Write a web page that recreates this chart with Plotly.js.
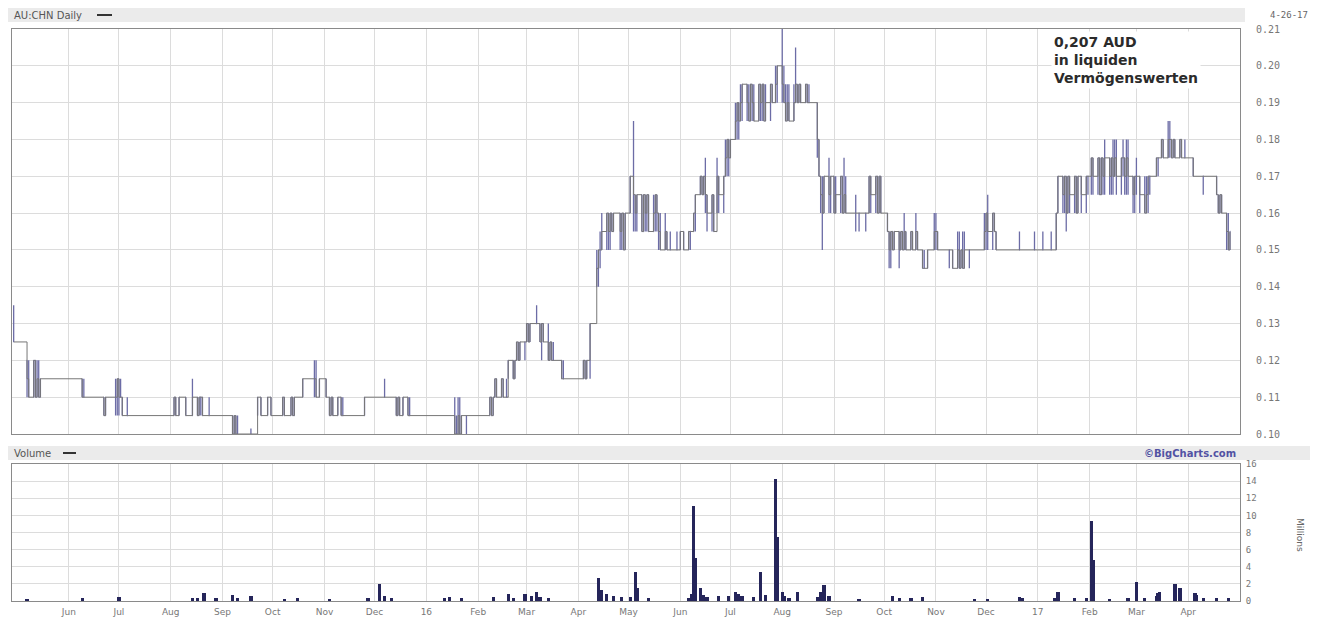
<!DOCTYPE html>
<html>
<head>
<meta charset="utf-8">
<script src="https://cdn.plot.ly/plotly-3.0.1.min.js"></script>
<style>
  html, body { margin: 0; padding: 0; background: #ffffff; }
  #chart { width: 1318px; height: 617px; }
</style>
</head>
<body>
<div id="chart"></div>
<script>
// ---------- DATA ----------
const barDate = [
 '2015-04-29','2015-05-07','2015-05-08','2015-05-11','2015-05-12','2015-05-13','2015-05-14','2015-05-15',
 '2015-06-09','2015-06-10','2015-06-22','2015-06-23','2015-06-29','2015-06-30','2015-07-01','2015-07-02','2015-07-03','2015-07-06',
 '2015-08-03','2015-08-04','2015-08-06','2015-08-10','2015-08-14','2015-08-17','2015-08-18','2015-08-19','2015-08-20','2015-08-24',
 '2015-09-07','2015-09-08','2015-09-09','2015-09-10','2015-09-18','2015-09-22','2015-09-24','2015-09-28','2015-09-30',
 '2015-10-07','2015-10-08','2015-10-12','2015-10-13','2015-10-14','2015-10-19','2015-10-26','2015-10-27','2015-10-29',
 '2015-11-02','2015-11-04','2015-11-05','2015-11-06','2015-11-09','2015-11-11','2015-11-12','2015-11-25',
 '2015-12-07','2015-12-14','2015-12-15','2015-12-16','2015-12-18','2015-12-21','2015-12-22',
 '2016-01-18','2016-01-19','2016-01-20','2016-01-21','2016-01-22','2016-01-25',
 '2016-02-08','2016-02-09','2016-02-10','2016-02-11','2016-02-12','2016-02-15','2016-02-16','2016-02-18',
 '2016-02-19','2016-02-22','2016-02-23','2016-02-24','2016-02-25','2016-02-26','2016-02-29',
 '2016-03-01','2016-03-02','2016-03-03','2016-03-07','2016-03-09','2016-03-10','2016-03-11','2016-03-14',
 '2016-03-15','2016-03-16','2016-03-17','2016-03-22','2016-03-23',
 '2016-04-04','2016-04-05','2016-04-06','2016-04-08','2016-04-12','2016-04-13','2016-04-14','2016-04-15',
 '2016-04-18','2016-04-19','2016-04-20','2016-04-21','2016-04-22','2016-04-26','2016-04-27','2016-04-28','2016-04-29',
 '2016-05-02','2016-05-04','2016-05-05','2016-05-06','2016-05-09','2016-05-10','2016-05-11','2016-05-12','2016-05-13',
 '2016-05-16','2016-05-17','2016-05-18','2016-05-19','2016-05-20','2016-05-23','2016-05-24','2016-05-26','2016-05-30',
 '2016-06-01','2016-06-03','2016-06-06','2016-06-07','2016-06-09','2016-06-10','2016-06-13','2016-06-14','2016-06-15',
 '2016-06-16','2016-06-17','2016-06-20','2016-06-21','2016-06-23','2016-06-24','2016-06-27','2016-06-28','2016-06-29',
 '2016-06-30','2016-07-01','2016-07-04','2016-07-05','2016-07-06','2016-07-07','2016-07-08','2016-07-11','2016-07-12',
 '2016-07-13','2016-07-14','2016-07-15','2016-07-18','2016-07-19','2016-07-20','2016-07-21','2016-07-22','2016-07-25',
 '2016-07-26','2016-07-28','2016-07-29','2016-08-01','2016-08-02','2016-08-03','2016-08-04','2016-08-05','2016-08-08',
 '2016-08-09','2016-08-10','2016-08-11','2016-08-12','2016-08-15','2016-08-16','2016-08-17','2016-08-22','2016-08-23',
 '2016-08-24','2016-08-25','2016-08-26','2016-08-29','2016-08-30','2016-09-01','2016-09-02','2016-09-05','2016-09-06',
 '2016-09-07','2016-09-08','2016-09-14','2016-09-16','2016-09-20','2016-09-22','2016-09-23','2016-09-26','2016-09-27',
 '2016-09-28','2016-09-29','2016-10-03','2016-10-04','2016-10-05','2016-10-06','2016-10-07','2016-10-10','2016-10-11',
 '2016-10-12','2016-10-13','2016-10-14','2016-10-17','2016-10-18','2016-10-20','2016-10-21','2016-10-24','2016-10-25',
 '2016-10-27','2016-10-31','2016-11-01','2016-11-02','2016-11-09','2016-11-11','2016-11-14','2016-11-15','2016-11-16',
 '2016-11-17','2016-11-18','2016-11-21','2016-11-30','2016-12-01','2016-12-02','2016-12-05','2016-12-06','2016-12-07',
 '2016-12-21','2016-12-30','2017-01-04','2017-01-09','2017-01-12','2017-01-13','2017-01-16','2017-01-17','2017-01-18',
 '2017-01-19','2017-01-20','2017-01-23','2017-01-24','2017-01-25','2017-01-27','2017-01-30','2017-01-31','2017-02-02',
 '2017-02-03','2017-02-06','2017-02-07','2017-02-08','2017-02-09','2017-02-10','2017-02-13','2017-02-14','2017-02-15',
 '2017-02-16','2017-02-17','2017-02-20','2017-02-21','2017-02-22','2017-02-23','2017-02-24','2017-02-27','2017-02-28',
 '2017-03-01','2017-03-03','2017-03-06','2017-03-07','2017-03-08','2017-03-09','2017-03-13','2017-03-14','2017-03-16',
 '2017-03-17','2017-03-20','2017-03-21','2017-03-22','2017-03-23','2017-03-24','2017-03-27','2017-03-28','2017-03-30',
 '2017-04-04','2017-04-10','2017-04-18','2017-04-19','2017-04-20','2017-04-21','2017-04-24','2017-04-25','2017-04-26'
];
const barOpen = [
 .13,.12,.115,.11,.12,.11,.115,.11,
 .115,.11,.11,.105,.11,.11,.115,.11,.11,.105,
 .105,.11,.105,.11,.105,.11,.105,.11,.11,.105,
 .105,.10,.105,.10,.10,.105,.11,.105,.11,
 .105,.11,.105,.11,.105,.11,.115,.115,.11,
 .115,.11,.105,.11,.105,.11,.105,.105,
 .11,.11,.105,.11,.105,.11,.105,
 .105,.10,.10,.105,.10,.105,
 .105,.11,.105,.11,.115,.11,.115,.11,
 .11,.12,.115,.12,.125,.12,.125,
 .125,.13,.125,.13,.13,.125,.13,.125,
 .12,.125,.12,.12,.115,
 .115,.12,.115,.12,.14,.145,.15,.15,
 .155,.16,.155,.16,.155,.16,.155,.16,.15,
 .16,.17,.165,.16,.165,.155,.165,.16,.165,
 .155,.16,.165,.16,.155,.15,.155,.15,.15,
 .15,.155,.15,.155,.155,.16,.165,.17,.165,
 .17,.165,.16,.165,.155,.17,.165,.17,.175,
 .18,.175,.18,.185,.19,.185,.19,.195,.19,
 .185,.195,.19,.185,.195,.19,.195,.185,.19,
 .195,.19,.195,.20,.195,.19,.185,.19,.185,
 .19,.195,.19,.195,.19,.195,.19,.19,.18,
 .17,.165,.16,.17,.165,.17,.16,.165,.17,
 .16,.165,.16,.16,.16,.16,.17,.165,.17,
 .16,.17,.16,.155,.15,.155,.15,.155,.15,
 .155,.15,.155,.15,.155,.15,.155,.15,.145,
 .145,.15,.155,.155,.15,.15,.145,.15,.145,
 .15,.145,.15,.15,.155,.16,.155,.16,.155,
 .15,.15,.15,.15,.15,.16,.17,.165,.17,
 .16,.17,.165,.17,.16,.17,.165,.17,.17,
 .175,.17,.175,.165,.175,.17,.175,.17,.175,
 .17,.175,.17,.175,.175,.17,.175,.17,.165,
 .17,.17,.165,.16,.165,.17,.17,.175,.175,
 .18,.175,.18,.18,.175,.18,.175,.18,.175,
 .175,.17,.17,.165,.16,.165,.16,.155,.15
];
const barHigh = [
 .135,.12,.12,.12,.12,.12,.12,.115,
 .115,.115,.11,.11,.115,.115,.115,.115,.11,.11,
 .11,.11,.11,.11,.115,.11,.11,.11,.11,.11,
 .105,.105,.105,.105,.1015,.11,.11,.11,.11,
 .11,.11,.11,.11,.11,.115,.12,.12,.115,
 .115,.11,.11,.11,.11,.11,.11,.11,
 .115,.11,.11,.11,.11,.11,.11,
 .11,.105,.11,.11,.105,.105,
 .11,.11,.11,.115,.115,.115,.115,.115,
 .12,.12,.12,.125,.125,.125,.125,
 .13,.13,.13,.135,.13,.13,.13,.13,
 .125,.125,.125,.12,.12,
 .12,.12,.12,.13,.15,.15,.155,.16,
 .16,.16,.16,.16,.16,.16,.16,.16,.16,
 .17,.185,.165,.165,.165,.165,.165,.165,.165,
 .165,.165,.165,.16,.16,.16,.155,.155,.155,
 .155,.155,.155,.155,.16,.165,.17,.17,.17,
 .175,.165,.165,.165,.175,.17,.17,.18,.18,
 .18,.18,.19,.19,.19,.195,.195,.195,.195,
 .195,.195,.195,.195,.195,.195,.195,.195,.195,
 .195,.20,.20,.2105,.20,.195,.195,.195,.195,
 .205,.195,.195,.195,.195,.195,.195,.19,.18,
 .17,.17,.17,.175,.17,.17,.17,.17,.17,
 .175,.17,.165,.16,.16,.17,.17,.17,.17,
 .17,.17,.16,.155,.155,.155,.155,.155,.155,
 .155,.16,.155,.155,.155,.16,.155,.15,.15,
 .15,.16,.16,.155,.15,.15,.155,.155,.15,
 .155,.155,.15,.16,.16,.165,.16,.16,.155,
 .155,.155,.155,.155,.16,.17,.17,.17,.17,
 .17,.17,.17,.17,.17,.17,.17,.17,.175,
 .175,.175,.175,.175,.175,.18,.175,.175,.18,
 .18,.18,.175,.18,.175,.18,.18,.17,.17,
 .175,.17,.17,.17,.17,.17,.175,.175,.18,
 .18,.185,.185,.18,.18,.18,.18,.18,.18,
 .175,.17,.17,.165,.165,.165,.16,.16,.155
];
const barLow = [
 .125,.11,.11,.11,.11,.11,.11,.11,
 .11,.11,.105,.105,.105,.105,.105,.11,.105,.105,
 .105,.105,.105,.105,.105,.105,.105,.105,.105,.105,
 .10,.10,.10,.10,.10,.105,.105,.105,.105,
 .105,.105,.105,.105,.105,.11,.11,.11,.11,
 .11,.105,.105,.105,.105,.105,.105,.105,
 .11,.105,.105,.105,.105,.105,.105,
 .10,.10,.10,.10,.10,.10,
 .105,.105,.105,.11,.11,.11,.11,.11,
 .115,.115,.115,.12,.12,.12,.12,
 .125,.125,.125,.13,.125,.12,.125,.12,
 .12,.12,.12,.115,.115,
 .115,.115,.115,.115,.14,.14,.145,.15,
 .15,.15,.15,.155,.155,.15,.15,.15,.15,
 .16,.155,.155,.155,.155,.155,.155,.155,.155,
 .155,.155,.155,.15,.15,.15,.15,.15,.15,
 .15,.15,.15,.15,.155,.155,.165,.165,.165,
 .16,.155,.155,.155,.16,.16,.16,.17,.17,
 .17,.175,.18,.18,.18,.185,.185,.185,.185,
 .185,.185,.185,.185,.185,.185,.185,.185,.185,
 .19,.19,.19,.19,.19,.185,.185,.185,.185,
 .19,.19,.19,.19,.19,.19,.19,.175,.17,
 .16,.15,.16,.16,.16,.16,.16,.16,.16,
 .16,.16,.155,.155,.155,.16,.16,.16,.16,
 .16,.16,.155,.145,.145,.15,.15,.145,.15,
 .15,.15,.15,.15,.15,.15,.15,.145,.145,
 .145,.15,.15,.15,.145,.145,.145,.145,.145,
 .145,.145,.145,.15,.15,.15,.15,.155,.15,
 .15,.15,.15,.15,.15,.16,.16,.16,.155,
 .16,.16,.16,.16,.16,.16,.16,.165,.165,
 .165,.165,.165,.165,.165,.165,.165,.165,.165,
 .17,.165,.165,.17,.165,.165,.165,.16,.16,
 .165,.16,.16,.16,.16,.165,.17,.17,.175,
 .175,.175,.175,.175,.175,.175,.175,.175,.175,
 .17,.165,.165,.16,.16,.16,.15,.15,.15
];
const barClose = [
 .125,.115,.11,.12,.11,.115,.11,.115,
 .11,.11,.105,.11,.11,.115,.11,.11,.105,.105,
 .11,.105,.11,.105,.11,.105,.11,.11,.105,.105,
 .10,.105,.10,.10,.10,.11,.105,.11,.105,
 .11,.105,.11,.105,.11,.115,.115,.11,.115,
 .11,.105,.11,.105,.11,.105,.105,.11,
 .11,.105,.11,.105,.11,.105,.105,
 .10,.10,.105,.10,.105,.105,
 .11,.105,.11,.115,.11,.115,.11,.11,
 .12,.115,.12,.125,.12,.125,.125,
 .13,.125,.13,.13,.125,.13,.125,.12,
 .125,.12,.12,.115,.115,
 .12,.115,.12,.13,.145,.15,.15,.155,
 .16,.155,.16,.155,.16,.155,.16,.15,.16,
 .17,.165,.16,.165,.155,.165,.16,.165,.155,
 .16,.165,.16,.155,.15,.155,.15,.15,.15,
 .155,.15,.155,.155,.16,.165,.17,.165,.17,
 .165,.16,.165,.155,.17,.165,.17,.175,.18,
 .175,.18,.185,.19,.185,.19,.195,.19,.185,
 .195,.19,.185,.195,.19,.195,.185,.19,.195,
 .19,.195,.20,.195,.19,.185,.19,.185,.19,
 .195,.19,.195,.19,.195,.19,.19,.18,.17,
 .165,.16,.17,.165,.17,.16,.165,.17,.16,
 .165,.16,.16,.16,.16,.17,.165,.17,.16,
 .17,.16,.155,.15,.155,.15,.155,.15,.155,
 .15,.155,.15,.155,.15,.155,.15,.145,.145,
 .15,.155,.155,.15,.15,.145,.15,.145,.15,
 .145,.15,.15,.155,.16,.155,.16,.155,.15,
 .15,.15,.15,.15,.16,.17,.165,.17,.16,
 .17,.165,.17,.16,.17,.165,.17,.17,.175,
 .17,.175,.165,.175,.17,.175,.17,.175,.17,
 .175,.17,.175,.175,.17,.175,.17,.165,.17,
 .17,.165,.16,.165,.17,.17,.175,.175,.18,
 .175,.18,.18,.175,.18,.175,.18,.175,.175,
 .17,.17,.165,.16,.165,.16,.155,.15,.155
];

const volDate = [
 '2015-05-07','2015-06-09','2015-07-01','2015-08-14','2015-08-17','2015-08-21','2015-08-28','2015-09-07','2015-09-10',
 '2015-09-18','2015-10-08','2015-10-16','2015-11-04','2015-11-27','2015-12-04','2015-12-07','2015-12-11',
 '2016-01-12','2016-01-15','2016-01-22','2016-02-10','2016-02-19','2016-02-22','2016-02-29','2016-03-04','2016-03-07',
 '2016-03-09','2016-03-14','2016-04-13','2016-04-15','2016-04-18','2016-04-22','2016-04-27','2016-05-02','2016-05-05',
 '2016-05-06','2016-05-13','2016-06-06','2016-06-08','2016-06-09','2016-06-10','2016-06-13','2016-06-15','2016-06-17',
 '2016-06-24','2016-06-30','2016-07-04','2016-07-06','2016-07-08','2016-07-15','2016-07-19','2016-07-22','2016-07-28',
 '2016-07-29','2016-08-01','2016-08-02','2016-08-05','2016-08-10','2016-08-22','2016-08-24','2016-08-26','2016-08-29',
 '2016-09-16','2016-10-06','2016-10-10','2016-10-17','2016-10-24','2016-11-24','2016-12-02','2016-12-21','2016-12-23',
 '2017-01-11','2017-01-13','2017-01-23','2017-01-30','2017-02-02','2017-02-03','2017-02-13','2017-02-24','2017-03-01',
 '2017-03-06','2017-03-13','2017-03-14','2017-03-15','2017-03-24','2017-03-27','2017-04-05','2017-04-06','2017-04-10',
 '2017-04-18','2017-04-25'
];
const volValue = [
 0.2,0.3,0.5,0.3,0.4,0.9,0.3,0.7,0.4,
 0.6,0.2,0.3,0.2,0.3,2.0,0.6,0.3,
 0.3,0.5,0.3,0.5,0.8,0.4,0.8,0.6,1.0,
 0.5,0.3,2.7,1.3,0.8,0.6,0.5,0.5,3.4,
 1.5,0.3,0.3,0.8,11.1,5.0,1.5,0.7,0.5,
 0.6,0.6,1.0,0.8,0.6,0.5,3.4,0.7,14.3,
 7.5,1.0,0.6,0.3,1.0,0.5,1.0,1.9,0.6,
 0.2,0.6,0.4,0.3,0.5,0.2,0.2,0.5,0.3,
 0.4,1.0,0.3,0.3,9.3,4.8,0.2,0.3,2.2,
 0.4,0.6,0.9,1.0,2.0,1.5,0.9,0.7,0.3,
 0.3,0.4
];

const monthStarts = [
 '2015-06-01','2015-07-01','2015-08-01','2015-09-01','2015-10-01','2015-11-01','2015-12-01','2016-01-01',
 '2016-02-01','2016-03-01','2016-04-01','2016-05-01','2016-06-01','2016-07-01','2016-08-01','2016-09-01',
 '2016-10-01','2016-11-01','2016-12-01','2017-01-01','2017-02-01','2017-03-01','2017-04-01'
];
const monthLabels = ['Jun','Jul','Aug','Sep','Oct','Nov','Dec','16','Feb','Mar','Apr','May','Jun','Jul','Aug','Sep','Oct','Nov','Dec','17','Feb','Mar','Apr'];
const priceTicks = [0.10,0.11,0.12,0.13,0.14,0.15,0.16,0.17,0.18,0.19,0.20,0.21];
const priceLabels = ['0.10','0.11','0.12','0.13','0.14','0.15','0.16','0.17','0.18','0.19','0.20','0.21'];
const volTicks = [0,2,4,6,8,10,12,14,16];
const volLabels = ['0','2','4','6','8','10','12','14','16'];

// ---------- LAYOUT HELPERS (pixel -> paper) ----------
const W = 1318, H = 617;
const px = v => v / W;
const py = v => 1 - v / H;

const traces = [
  {
    type: 'scatter', mode: 'lines', x: barDate, y: barClose,
    line: {shape: 'hv', color: '#777777', width: 1},
    xaxis: 'x', yaxis: 'y', hoverinfo: 'skip', showlegend: false
  },
  {
    type: 'ohlc', x: barDate, open: barOpen, high: barHigh, low: barLow, close: barClose,
    increasing: {line: {color: '#6c6ca6', width: 1.3}},
    decreasing: {line: {color: '#6c6ca6', width: 1.3}},
    tickwidth: 0.25,
    xaxis: 'x', yaxis: 'y', showlegend: false
  },
  {
    type: 'bar', x: volDate, y: volValue, width: 2 * 86400000,
    marker: {color: '#25255a', line: {width: 0}},
    xaxis: 'x2', yaxis: 'y2', showlegend: false
  }
];

const gridC = '#dcdcdc';
const layout = {
  width: W, height: H,
  margin: {l: 0, r: 0, t: 0, b: 0},
  paper_bgcolor: '#ffffff', plot_bgcolor: '#ffffff',
  showlegend: false,
  bargap: 0,
  font: {family: 'DejaVu Sans', size: 9, color: '#666'},
  xaxis: {
    type: 'date', domain: [px(12), px(1240)], range: ['2015-04-28', '2017-05-02'],
    anchor: 'y', tickvals: monthStarts, showticklabels: false, ticks: '',
    showgrid: true, gridcolor: gridC, gridwidth: 1, zeroline: false,
    showline: true, linecolor: '#8a8a8a', linewidth: 1, mirror: true,
    rangeslider: {visible: false}, fixedrange: true
  },
  yaxis: {
    domain: [py(434), py(29)], range: [0.10, 0.21], side: 'right', anchor: 'x',
    tickvals: priceTicks, ticktext: priceLabels, ticks: '',
    tickfont: {family: 'DejaVu Sans Mono', size: 10, color: '#777'},
    ticklabelstandoff: 13,
    showgrid: true, gridcolor: gridC, zeroline: false,
    showline: true, linecolor: '#8a8a8a', linewidth: 1, mirror: true, fixedrange: true
  },
  xaxis2: {
    type: 'date', domain: [px(12), px(1240)], range: ['2015-04-28', '2017-05-02'],
    anchor: 'y2', matches: 'x', tickvals: monthStarts, ticktext: monthLabels, ticks: '',
    tickfont: {family: 'DejaVu Sans', size: 9, color: '#777'},
    ticklabelstandoff: 2,
    showgrid: true, gridcolor: gridC, zeroline: false,
    showline: true, linecolor: '#8a8a8a', linewidth: 1, mirror: true,
    rangeslider: {visible: false}, fixedrange: true
  },
  yaxis2: {
    domain: [py(601), py(464)], range: [0, 16], side: 'right', anchor: 'x2',
    tickvals: volTicks, ticktext: volLabels, ticks: '',
    tickfont: {family: 'DejaVu Sans Mono', size: 9, color: '#777'},
    ticklabelstandoff: 3,
    showgrid: true, gridcolor: gridC, zeroline: false,
    showline: true, linecolor: '#8a8a8a', linewidth: 1, mirror: true, fixedrange: true
  },
  shapes: [
    {type: 'rect', xref: 'paper', yref: 'paper', x0: px(8), x1: px(1245), y0: py(22), y1: py(8),
     fillcolor: '#ebebeb', line: {width: 0}, layer: 'below'},
    {type: 'rect', xref: 'paper', yref: 'paper', x0: px(8), x1: px(1310), y0: py(460), y1: py(446),
     fillcolor: '#ebebeb', line: {width: 0}, layer: 'below'},
    {type: 'line', xref: 'paper', yref: 'paper', x0: px(97), x1: px(112), y0: py(15), y1: py(15),
     line: {color: '#333', width: 2}},
    {type: 'line', xref: 'paper', yref: 'paper', x0: px(63), x1: px(76), y0: py(453), y1: py(453),
     line: {color: '#333', width: 2}}
  ],
  annotations: [
    {xref: 'paper', yref: 'paper', x: px(12), y: py(15), xanchor: 'left', yanchor: 'middle',
     text: 'AU:CHN Daily', showarrow: false, font: {family: 'DejaVu Sans', size: 10, color: '#555'}},
    {xref: 'paper', yref: 'paper', x: px(1268), y: py(15), xanchor: 'left', yanchor: 'middle',
     text: '4-26-17', showarrow: false, font: {family: 'DejaVu Sans Mono', size: 9, color: '#666'}},
    {xref: 'paper', yref: 'paper', x: px(1051), y: py(31), xanchor: 'left', yanchor: 'top', align: 'left',
     text: '0,207 AUD<br>in liquiden<br>Vermögenswerten', showarrow: false,
     bgcolor: '#ffffff', borderpad: 2,
     font: {family: 'DejaVu Sans', size: 14, color: '#2b2b2b', weight: 'bold'}},
    {xref: 'paper', yref: 'paper', x: px(12), y: py(453), xanchor: 'left', yanchor: 'middle',
     text: 'Volume', showarrow: false, font: {family: 'DejaVu Sans', size: 10, color: '#555'}},
    {xref: 'paper', yref: 'paper', x: px(1238), y: py(453), xanchor: 'right', yanchor: 'middle',
     text: '©BigCharts.com', showarrow: false, font: {family: 'DejaVu Sans', size: 10, color: '#5252a3', weight: 'bold'}},
    {xref: 'paper', yref: 'paper', x: px(1300), y: py(535), xanchor: 'center', yanchor: 'middle',
     text: 'Millions', textangle: 90, showarrow: false, font: {family: 'DejaVu Sans', size: 9, color: '#666'}}
  ]
};

Plotly.newPlot('chart', traces, layout, {displayModeBar: false, staticPlot: true});
</script>
</body>
</html>
